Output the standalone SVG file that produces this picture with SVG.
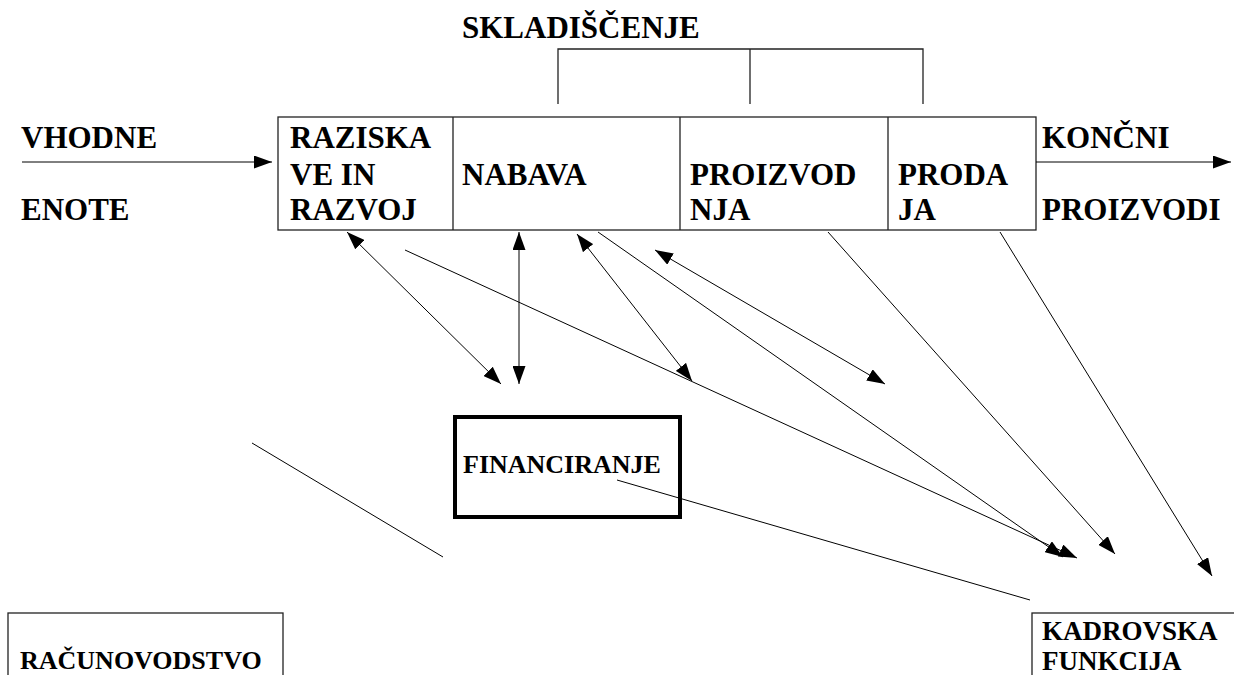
<svg xmlns="http://www.w3.org/2000/svg" width="1234" height="675" viewBox="0 0 1234 675">
  <defs>
    <!-- filled arrowhead shared by every connector -->
    <marker id="head" viewBox="0 0 18 13" refX="18" refY="6.5" markerWidth="18" markerHeight="13" markerUnits="userSpaceOnUse" orient="auto-start-reverse">
      <path d="M0,0 L18,6.5 L0,13 Z" fill="#000"/>
    </marker>
  </defs>
  <rect width="1234" height="675" fill="#fff"/>

  <g id="skladiscenje">
    <text x="462" y="38" font-family="'Liberation Serif', serif" font-weight="bold" font-size="31">SKLADIŠČENJE</text>
    <path d="M558,104 V49 H923 V104 M750,49 V104" fill="none" stroke="#222" stroke-width="1.3"/>
  </g>

  <g id="vhodne">
    <text x="21" y="148" font-family="'Liberation Serif', serif" font-weight="bold" font-size="31">VHODNE</text>
    <text x="21" y="220" font-family="'Liberation Serif', serif" font-weight="bold" font-size="31">ENOTE</text>
  </g>

  <g id="koncni">
    <text x="1042" y="148" font-family="'Liberation Serif', serif" font-weight="bold" font-size="31">KONČNI</text>
    <text x="1042" y="220" font-family="'Liberation Serif', serif" font-weight="bold" font-size="31">PROIZVODI</text>
  </g>

  <g id="proces">
    <g fill="none" stroke="#222" stroke-width="1.3">
      <rect x="278" y="117" width="758" height="113"/>
      <path d="M453,117 V230 M680,117 V230 M888,117 V230"/>
    </g>
    <text x="290" y="148" font-family="'Liberation Serif', serif" font-weight="bold" font-size="31">RAZISKA</text>
    <text x="290" y="185" font-family="'Liberation Serif', serif" font-weight="bold" font-size="31">VE IN</text>
    <text x="290" y="220" font-family="'Liberation Serif', serif" font-weight="bold" font-size="31">RAZVOJ</text>
    <text x="462" y="185" font-family="'Liberation Serif', serif" font-weight="bold" font-size="31">NABAVA</text>
    <text x="690" y="185" font-family="'Liberation Serif', serif" font-weight="bold" font-size="31">PROIZVOD</text>
    <text x="690" y="220" font-family="'Liberation Serif', serif" font-weight="bold" font-size="31">NJA</text>
    <text x="898" y="185" font-family="'Liberation Serif', serif" font-weight="bold" font-size="31">PRODA</text>
    <text x="898" y="220" font-family="'Liberation Serif', serif" font-weight="bold" font-size="31">JA</text>
  </g>

  <g id="financiranje">
    <rect x="455" y="417" width="225" height="100" fill="none" stroke="#000" stroke-width="4"/>
    <text x="463" y="473" font-family="'Liberation Serif', serif" font-weight="bold" font-size="26">FINANCIRANJE</text>
  </g>

  <g id="racunovodstvo">
    <rect x="8" y="613" width="275" height="80" fill="none" stroke="#222" stroke-width="1.3"/>
    <text x="20" y="669" font-family="'Liberation Serif', serif" font-weight="bold" font-size="26">RAČUNOVODSTVO</text>
  </g>

  <g id="kadrovska">
    <rect x="1032" y="613" width="220" height="80" fill="none" stroke="#222" stroke-width="1.3"/>
    <text x="1042" y="640" font-family="'Liberation Serif', serif" font-weight="bold" font-size="27">KADROVSKA</text>
    <text x="1042" y="670" font-family="'Liberation Serif', serif" font-weight="bold" font-size="27">FUNKCIJA</text>
  </g>

  <g id="connectors" fill="none" stroke="#000" stroke-width="1">
    <line x1="22" y1="162" x2="272" y2="162" marker-end="url(#head)"/>
    <line x1="1036" y1="162" x2="1231" y2="162" marker-end="url(#head)"/>
    <line x1="347" y1="232" x2="501" y2="384" marker-start="url(#head)" marker-end="url(#head)"/>
    <line x1="519" y1="232" x2="519" y2="384" marker-start="url(#head)" marker-end="url(#head)"/>
    <line x1="577" y1="234" x2="692" y2="381" marker-start="url(#head)" marker-end="url(#head)"/>
    <line x1="655" y1="250" x2="885" y2="384" marker-start="url(#head)" marker-end="url(#head)"/>
    <line x1="405" y1="250" x2="1077" y2="558" marker-end="url(#head)"/>
    <line x1="598" y1="232" x2="1063" y2="557" marker-end="url(#head)"/>
    <line x1="828" y1="232" x2="1115" y2="554" marker-end="url(#head)"/>
    <line x1="1000" y1="232" x2="1212" y2="576" marker-end="url(#head)"/>
    <line x1="617" y1="480" x2="1030" y2="600"/>
    <line x1="252" y1="443" x2="443" y2="557"/>
  </g>
</svg>
